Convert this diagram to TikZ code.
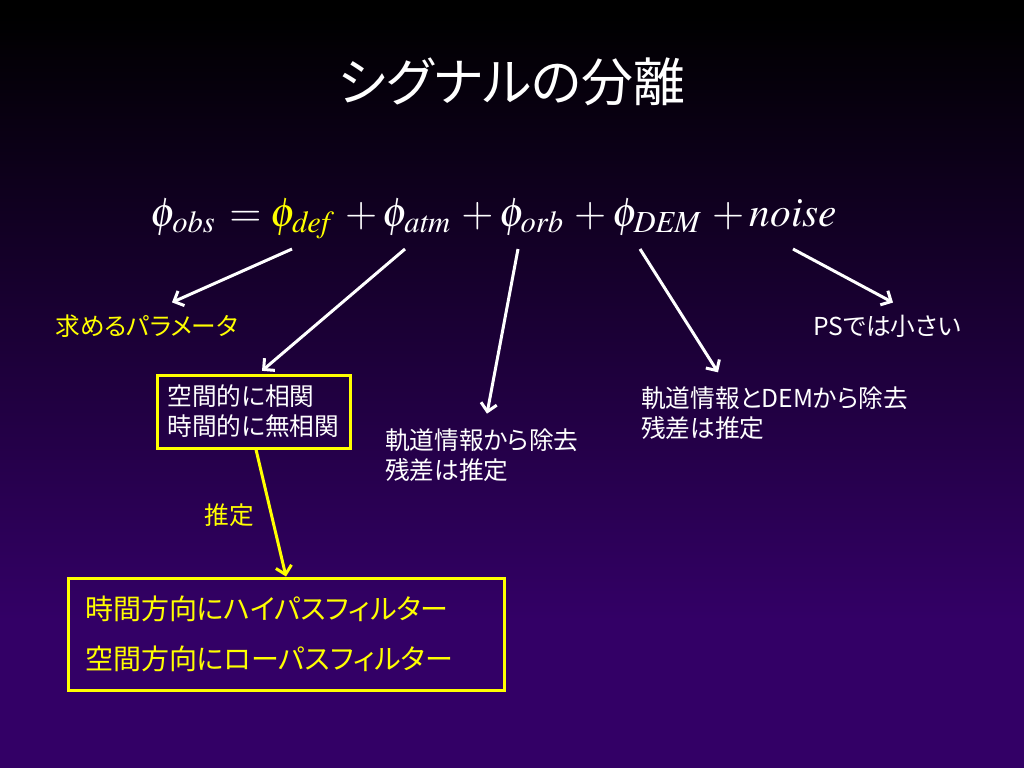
\documentclass[tikz,border=0pt]{standalone}
\usepackage{mathptmx}
\usepackage[no-math]{fontspec}
\newfontfamily\jpfont[RawFeature=+palt]{Noto Sans CJK JP}
\usetikzlibrary{arrows.meta}
\definecolor{bgpurple}{RGB}{51,0,102}
\definecolor{slideyellow}{RGB}{255,255,0}
\newcommand{\phisub}[1]{\phi_{\mathit{#1}}\,}
\tikzset{
  arrw/.style={line width=2.25pt, -{Straight Barb[length=6pt,width=12pt]}},
  jptxt/.style={inner sep=0pt, anchor=west, align=left, font=\jpfont\fontsize{18.5}{22.5}\selectfont},
  ybox/.style={draw=slideyellow, line width=2.25pt, align=left, text=white}
}
\begin{document}
\begin{tikzpicture}[x=0.75pt, y=-0.75pt]
\useasboundingbox (0,0) rectangle (1024,768);
% Background
\fill[black] (0,0) rectangle (1024,768);
\shade[top color=black, bottom color=bgpurple] (0,15) rectangle (1024,620);
\fill[bgpurple] (0,620) rectangle (1024,768);
% Title
\node[text=white, font=\jpfont\fontsize{39}{44}\selectfont] (title) at (512,82) {シグナルの分離};
% Formula
\node[text=white, anchor=base, font=\fontsize{31}{40}\selectfont] (formula) at (494,226)
  {$\phisub{obs} = {\color{slideyellow}\phisub{def}} + \phisub{atm} + \phisub{orb} + \phisub{DEM} + \mathit{noise}$};
\coordinate (tdef) at (292,249);
\coordinate (tatm) at (405,249);
\coordinate (torb) at (518,249);
\coordinate (tdem) at (640,249);
\coordinate (tnoise) at (793,249);
% Labels
\node[jptxt, text=slideyellow] (param) at (55,326) {求めるパラメータ};
\node[jptxt, text=white] (ps) at (813,326) {PSでは小さい};
\node[ybox, font=\jpfont\fontsize{18.5}{22.5}\selectfont, inner xsep=7.5pt, inner ysep=0pt,
  text width=130pt, minimum height=54.75pt] (corr) at (254,411.5) {空間的に相関\\時間的に無相関};
\node[jptxt, text=white] (orbtext) at (385,455) {軌道情報から除去\\残差は推定};
\node[jptxt, text=white] (demtext) at (641,413) {軌道情報とDEMから除去\\残差は推定};
\node[text=slideyellow, font=\jpfont\fontsize{18.5}{22.5}\selectfont] (est) at (229,515) {推定};
\node[ybox, text=slideyellow, font=\jpfont\fontsize{21}{37.5}\selectfont, inner xsep=12.75pt,
  inner ysep=0pt, text width=301.5pt, minimum height=84pt] (filt) at (286,634)
  {時間方向にハイパスフィルター\\空間方向にローパスフィルター};
% Arrows
\draw[arrw, white] (tdef) -- ([xshift=87.75pt, yshift=9pt]param.north west);
\draw[arrw, white] (tatm) -- ([xshift=6pt, yshift=2pt]corr.north);
\draw[arrw, white] (torb) -- ([xshift=76.5pt, yshift=11pt]orbtext.north west);
\draw[arrw, white] (tdem) -- ([xshift=57.75pt, yshift=10.5pt]demtext.north west);
\draw[arrw, white] (tnoise) -- ([xshift=60pt, yshift=9pt]ps.north west);
\draw[arrw, slideyellow] ([xshift=1.5pt]corr.south) -- (filt.north);
\end{tikzpicture}
\end{document}
